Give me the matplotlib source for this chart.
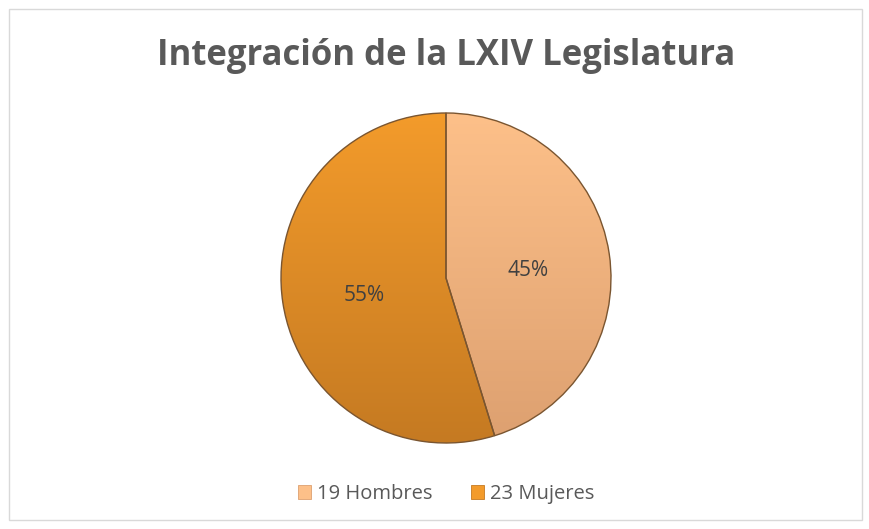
import numpy as np
import matplotlib
matplotlib.use("Agg")
import matplotlib.pyplot as plt
from matplotlib.patches import Patch, Rectangle
from matplotlib.colors import LinearSegmentedColormap

# data
labels = ["19 Hombres", "23 Mujeres"]
values = [19, 23]
top_colors = ["#FDC089", "#F39B2B"]
bottom_colors = ["#DDA070", "#C57A22"]
edge_col = "#7A5530"
title = "Integración de la LXIV Legislatura"

W, H = 870, 529
fig = plt.figure(figsize=(W / 100, H / 100), dpi=100)
fig.patch.set_facecolor("white")
plt.rcParams["font.family"] = ["Open Sans", "DejaVu Sans"]

# light frame around the chart area
fig.add_artist(Rectangle((9 / W, 9 / H), 853 / W, 511 / H, transform=fig.transFigure,
                         fill=False, edgecolor="#D9D9D9", linewidth=1))

cx, cy, r = 446, 278, 165
half = 172
ax = fig.add_axes([(cx - half) / W, (H - cy - half) / H, 2 * half / W, 2 * half / H])
lim = half / r
ax.set_xlim(-lim, lim)
ax.set_ylim(-lim, lim)
ax.set_aspect("equal")
ax.axis("off")

wedges, texts, autotexts = ax.pie(values, startangle=90, counterclock=False, radius=1,
                                  autopct="%1.0f%%", pctdistance=0.5,
                                  wedgeprops=dict(edgecolor=edge_col, linewidth=1.0),
                                  textprops=dict(color="#404040", fontsize=15))

# vertical gradient fill clipped to each wedge
grad = np.linspace(0, 1, 256).reshape(-1, 1)
for w, c0, c1 in zip(wedges, top_colors, bottom_colors):
    w.set_facecolor("none")
    cmap = LinearSegmentedColormap.from_list("g", [c0, c1])
    im = ax.imshow(grad, cmap=cmap, extent=(-1, 1, -1, 1), origin="upper",
                   aspect="auto", zorder=0.5)
    im.set_clip_path(w)
    w.set_zorder(1)
for t in autotexts:
    x, y = t.get_position()
    t.set_position((x, y - 0.03))
    t.set_zorder(3)
ax.set_xlim(-lim, lim)
ax.set_ylim(-lim, lim)

fig.text(cx / W, 1 - 56 / H, title, ha="center", va="center",
         fontsize=25, fontweight="bold", color="#595959")

handles = [Patch(facecolor=c, edgecolor=e, linewidth=0.6) for c, e in zip(top_colors, bottom_colors)]
fig.legend(handles, labels, loc="center", bbox_to_anchor=(cx / W, 1 - 494 / H), ncol=2,
           frameon=False, fontsize=14.5, handlelength=0.65, handleheight=0.65,
           handletextpad=0.3, columnspacing=1.9, labelcolor="#595959")

fig.savefig("out.png", dpi=100)
